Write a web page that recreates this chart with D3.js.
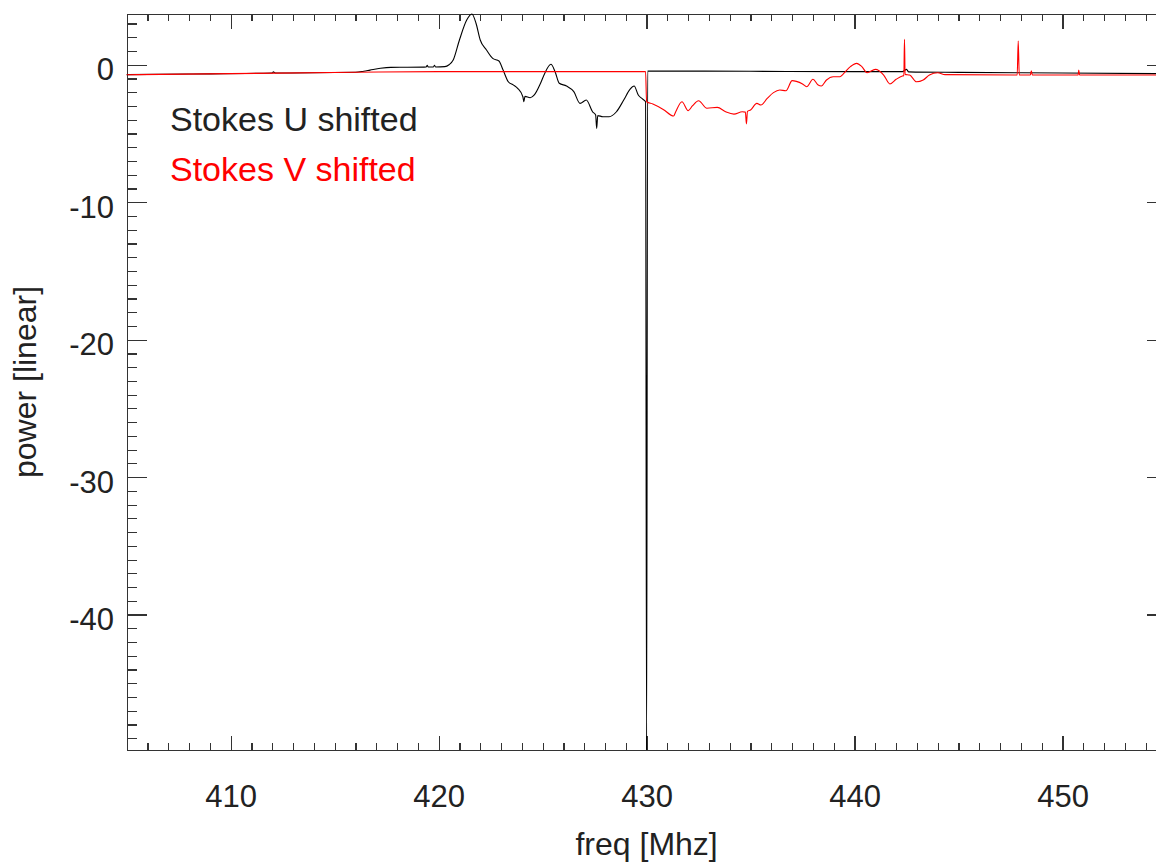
<!DOCTYPE html>
<html>
<head>
<meta charset="utf-8">
<script src="https://cdn.jsdelivr.net/npm/d3@7"></script>
<style>
    body { margin: 0; background: #fff; }
    svg { display: block; font-family: "Liberation Sans", Arial, Helvetica, sans-serif; }
    .axis path, .axis line { stroke: #333; stroke-width: 1.2; shape-rendering: crispEdges; }
    .axis text { font-size: 31px; fill: #222; font-family: "Liberation Sans", Arial, sans-serif; }
</style>
</head>
<body>
<svg id="chart" width="1156" height="863"></svg>
<script>
// Stokes U shifted (black)
const freqU = [405.0, 408.0, 412.0, 412.05, 412.15, 416.0, 416.4, 416.7, 417.2, 417.7, 418.5, 419.4, 419.45, 419.5,
    419.75, 419.8, 419.85, 420.3, 420.5, 420.7, 421.0, 421.35, 421.6, 421.8, 422.0, 422.3, 422.6, 422.9,
    423.1, 423.35, 423.6, 423.8, 424.05, 424.1, 424.15, 424.4, 424.6, 424.9, 425.1, 425.4, 425.6, 425.8,
    426.15, 426.5, 426.8, 427.1, 427.4, 427.55, 427.6, 427.65, 427.9, 428.2, 428.55, 428.9, 429.2, 429.4,
    429.6, 429.8, 429.95, 430.0, 430.05, 435.0, 440.0, 442.3, 442.5, 442.6, 445.0, 450.0, 455.0];
const powerU = [-0.72, -0.68, -0.60, -0.52, -0.60, -0.55, -0.47, -0.39, -0.26, -0.19, -0.18, -0.17, -0.05, -0.17,
    -0.16, -0.04, -0.16, -0.14, 0.0, 0.34, 1.8, 3.25, 3.69, 3.0, 1.8, 1.07, 0.46, 0.27,
    -0.39, -1.24, -1.48, -1.72, -2.33, -2.69, -2.3, -2.4, -2.2, -1.35, -0.63, 0.03, -0.51, -1.35,
    -1.55, -1.96, -2.81, -2.57, -3.42, -3.66, -4.63, -3.7, -3.78, -3.78, -3.42, -2.57, -1.79, -1.55,
    -2.2, -2.49, -2.69, -49.85, -0.46, -0.48, -0.5, -0.5, -0.34, -0.52, -0.56, -0.6, -0.65];

// Stokes V shifted (red)
const freqV = [405.0, 410.0, 416.0, 420.0, 429.95, 430.0, 430.3, 430.8, 431.3, 431.4, 431.7, 432.0, 432.2, 432.5,
    432.9, 433.4, 433.8, 434.2, 434.6, 434.75, 434.8, 434.85, 435.0, 435.3, 435.5, 435.8, 436.1, 436.4,
    436.7, 437.0, 437.2, 437.5, 437.7, 438.0, 438.25, 438.4, 438.65, 438.97, 439.3, 439.45, 439.8, 440.1,
    440.35, 440.6, 441.0, 441.4, 441.7, 442.0, 442.3, 442.37, 442.4, 442.43, 442.65, 442.98, 443.3, 443.6,
    444.0, 444.35, 447.82, 447.87, 447.92, 448.45, 448.5, 448.55, 450.75, 450.78, 450.82, 455.0];
const powerV = [-0.73, -0.65, -0.55, -0.5, -0.5, -2.69, -2.86, -3.25, -3.73, -3.42, -2.69, -3.34, -3.0, -2.62,
    -3.17, -3.1, -3.42, -3.59, -3.42, -3.45, -4.31, -3.4, -3.29, -2.81, -2.93, -2.45, -2.03, -1.84,
    -1.89, -1.16, -1.21, -1.40, -1.6, -1.06, -1.48, -1.55, -1.11, -0.87, -0.87, -0.68, -0.14, 0.1,
    -0.14, -0.58, -0.34, -0.75, -1.40, -1.06, -0.82, -0.8, 1.85, -0.7, -0.75, -1.24, -1.11, -0.75,
    -0.58, -0.72, -0.75, 1.72, -0.75, -0.75, -0.44, -0.75, -0.75, -0.39, -0.75, -0.75];

const xTicks = [410, 420, 430, 440, 450];
const yTicks = [0, -10, -20, -30, -40];
const xDomain = [405, 455];
const yDomain = [-49.85, 3.69];

window.onload = function() {
    drawChart();
};

function drawChart() {
    let svg = d3.select('#chart');
    let left = 126.7, right = 1166.5, top = 14, bottom = 750;

    let x = d3.scaleLinear().domain(xDomain).range([left, right]);
    let y = d3.scaleLinear().domain(yDomain).range([bottom, top]);

    let xMinor = d3.range(xDomain[0] + 1, xDomain[1], 1).filter(v => v % 10 !== 0);
    let yMinor = d3.range(-49, 4, 1).filter(v => v % 10 !== 0);
    let plainNum = d => String(d);  // keep the ascii hyphen

    // bottom axis, ticks pointing inward
    svg.append('g').attr('class', 'axis')
        .attr('transform', `translate(0,${bottom})`)
        .call(d3.axisBottom(x).tickValues(xMinor).tickSize(-7).tickSizeOuter(0).tickFormat(''))
        .select('.domain').remove();
    svg.append('g').attr('class', 'axis')
        .attr('transform', `translate(0,${bottom})`)
        .call(d3.axisBottom(x).tickValues(xTicks).tickSize(-14.5).tickSizeOuter(0).tickPadding(35).tickFormat(plainNum));

    // top axis
    svg.append('g').attr('class', 'axis')
        .attr('transform', `translate(0,${top})`)
        .call(d3.axisTop(x).tickValues(xMinor).tickSize(-7).tickSizeOuter(0).tickFormat(''))
        .select('.domain').remove();
    svg.append('g').attr('class', 'axis')
        .attr('transform', `translate(0,${top})`)
        .call(d3.axisTop(x).tickValues(xTicks).tickSize(-14.5).tickSizeOuter(0).tickFormat(''));

    // left axis
    svg.append('g').attr('class', 'axis')
        .attr('transform', `translate(${left},0)`)
        .call(d3.axisLeft(y).tickValues(yMinor).tickSize(-10).tickSizeOuter(0).tickFormat(''))
        .select('.domain').remove();
    let yAxis = svg.append('g').attr('class', 'axis')
        .attr('transform', `translate(${left},0)`)
        .call(d3.axisLeft(y).tickValues(yTicks).tickSize(-20).tickSizeOuter(0).tickPadding(12.7).tickFormat(plainNum));
    yAxis.selectAll('text').attr('dy', '0.48em');

    // right axis
    svg.append('g').attr('class', 'axis')
        .attr('transform', `translate(${right},0)`)
        .call(d3.axisRight(y).tickValues(yMinor).tickSize(-10).tickSizeOuter(0).tickFormat(''))
        .select('.domain').remove();
    svg.append('g').attr('class', 'axis')
        .attr('transform', `translate(${right},0)`)
        .call(d3.axisRight(y).tickValues(yTicks).tickSize(-20).tickSizeOuter(0).tickFormat(''));

    let line = d3.line()
        .curve(d3.curveMonotoneX)
        .x(d => x(d[0]))
        .y(d => y(d[1]));

    svg.append('path')
        .datum(d3.zip(freqU, powerU))
        .attr('fill', 'none')
        .attr('stroke', '#000')
        .attr('stroke-width', 1.1)
        .attr('stroke-linejoin', 'round')
        .attr('d', line);

    svg.append('path')
        .datum(d3.zip(freqV, powerV))
        .attr('fill', 'none')
        .attr('stroke', '#ff0000')
        .attr('stroke-width', 1.1)
        .attr('stroke-linejoin', 'round')
        .attr('d', line);

    // legend
    svg.append('text')
        .attr('x', 170).attr('y', 130.7)
        .attr('font-size', 34).attr('fill', '#222')
        .text('Stokes U shifted');
    svg.append('text')
        .attr('x', 170).attr('y', 180.7)
        .attr('font-size', 34).attr('fill', '#ff0000')
        .text('Stokes V shifted');

    // axis titles
    svg.append('text')
        .attr('x', (left + right) / 2).attr('y', 855)
        .attr('text-anchor', 'middle')
        .attr('font-size', 32).attr('fill', '#222')
        .text('freq [Mhz]');
    svg.append('text')
        .attr('transform', `translate(36,${(top + bottom) / 2}) rotate(-90)`)
        .attr('text-anchor', 'middle')
        .attr('font-size', 32).attr('fill', '#222')
        .text('power [linear]');
}
</script>
</body>
</html>
